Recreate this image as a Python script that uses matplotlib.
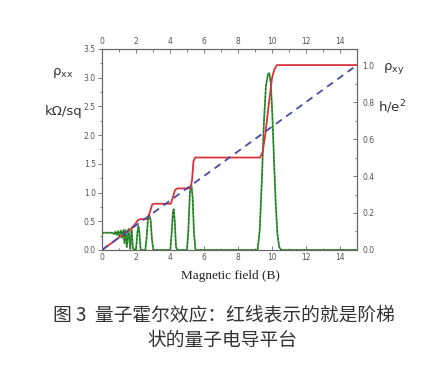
import matplotlib
matplotlib.use("Agg")
import matplotlib.pyplot as plt
from matplotlib.ticker import MultipleLocator, FormatStrFormatter

# rho_xx (left axis, kOhm/sq)
rxx_b = [0.00, 0.60, 0.70, 0.78, 0.86, 0.94, 1.02, 1.10, 1.18, 1.26, 1.32, 1.38,
         1.46, 1.56, 1.66, 1.74, 1.82, 1.92, 2.00, 2.08, 2.14, 2.20, 2.27, 2.55,
         2.62, 2.70, 2.78, 2.86, 2.94, 3.02, 4.02, 4.10, 4.17, 4.22, 4.28, 4.35,
         4.42, 5.00, 5.08, 5.17, 5.26, 5.33, 5.41, 5.50, 9.15, 9.28, 9.40, 9.52,
         9.64, 9.76, 9.84, 9.93, 10.02, 10.12, 10.22, 10.32, 10.42, 10.55, 15.0]
rxx_v = [0.30, 0.30, 0.28, 0.32, 0.26, 0.33, 0.24, 0.34, 0.21, 0.35, 0.12, 0.35,
         0.05, 0.37, 0.02, 0.38, 0.02, 0.01, 0.00, 0.30, 0.42, 0.30, 0.00, 0.00,
         0.20, 0.52, 0.61, 0.52, 0.18, 0.00, 0.00, 0.30, 0.66, 0.71, 0.50, 0.06,
         0.00, 0.00, 0.35, 1.00, 1.13, 0.92, 0.30, 0.00, 0.00, 0.35, 1.20, 2.20,
         2.85, 3.06, 3.08, 2.90, 2.35, 1.55, 0.80, 0.28, 0.05, 0.00, 0.00]

# rho_xy (right axis, h/e^2)
rxy_b = [0.0, 0.6, 1.0, 1.3, 1.45, 1.6, 1.8, 1.95, 2.1, 2.25, 2.65, 2.8, 2.95,
         3.05, 4.05, 4.15, 4.3, 4.45, 5.2, 5.3, 5.38, 5.48, 9.3, 9.45, 9.6,
         9.8, 10.0, 10.15, 10.3, 15.0]
rxy_v = [0.0, 0.04, 0.068, 0.085, 0.10, 0.105, 0.125, 0.14, 0.16, 0.167, 0.167,
         0.20, 0.245, 0.25, 0.25, 0.28, 0.325, 0.333, 0.333, 0.38, 0.48, 0.50,
         0.50, 0.53, 0.62, 0.78, 0.93, 0.98, 1.0, 1.0]

# classical Hall line
hall_b = [0.0, 15.0]
hall_v = [0.0, 1.0]

fig = plt.figure(figsize=(4.21, 3.74), dpi=100)
ax = fig.add_axes([0.2423, 0.3316, 0.6057, 0.5374])
ax2 = ax.twinx()

ax.plot(rxx_b, rxx_v, color="#3c9e3c", lw=1.3)
ax.plot(rxx_b, rxx_v, color="#1f5f1f", lw=0.7, dashes=(2, 2))
ax2.plot(rxy_b, rxy_v, color="#d8343c", lw=1.3)
ax2.plot(hall_b, hall_v, color="#4b4aa6", lw=1.3, dashes=(4, 3))

ax.set_xlim(0, 15)
ax.set_ylim(0, 3.5)
ax2.set_ylim(0, 3.5 / 3.22)

tick_kw = dict(labelsize=5.5, labelcolor="#555555", color="#666666", width=0.6)
ax.xaxis.set_major_locator(MultipleLocator(2))
ax.xaxis.set_minor_locator(MultipleLocator(1))
ax.yaxis.set_major_locator(MultipleLocator(0.5))
ax.yaxis.set_minor_locator(MultipleLocator(0.25))
ax.yaxis.set_major_formatter(FormatStrFormatter("%.1f"))
ax2.yaxis.set_major_locator(MultipleLocator(0.2))
ax2.yaxis.set_minor_locator(MultipleLocator(0.1))
ax2.yaxis.set_major_formatter(FormatStrFormatter("%.1f"))
ax2.set_yticks([0, 0.2, 0.4, 0.6, 0.8, 1.0])

ax.tick_params(axis="x", which="both", direction="in", top=True, labeltop=True,
               pad=2, **tick_kw)
ax.tick_params(axis="y", which="both", direction="out", pad=1.5, **tick_kw)
ax.tick_params(which="major", length=3)
ax.tick_params(which="minor", length=1.8)
ax2.tick_params(axis="y", which="both", direction="in", pad=4, **tick_kw)
ax2.tick_params(which="major", length=3)
ax2.tick_params(which="minor", length=1.8)

for a in (ax, ax2):
    for s in a.spines.values():
        s.set_color("#666666")
        s.set_linewidth(0.8)

side_kw = dict(fontsize=9.5, color="#333333", ha="center", va="center",
               family="DejaVu Sans")
fig.text(63 / 421, 1 - 73 / 374, r"ρ$_\mathregular{xx}$", **side_kw)
fig.text(64 / 421, 1 - 111 / 374, "kΩ/sq", **side_kw)
fig.text(394 / 421, 1 - 69 / 374, r"ρ$_\mathregular{xy}$", **side_kw)
fig.text(392 / 421, 1 - 107 / 374, r"h/e$^\mathregular{2}$", **side_kw)

fig.text(230 / 421, 1 - 276 / 374, "Magnetic field (B)", fontsize=9.5,
         color="#222222", ha="center", va="center", family="Liberation Serif")

cap_kw = dict(fontsize=13.5, color="#333333", ha="center", va="center",
              family=["Noto Sans CJK SC", "DejaVu Sans"])
fig.text(224 / 421, 1 - 315 / 374, "图 3  量子霍尔效应：红线表示的就是阶梯", **cap_kw)
fig.text(222 / 421, 1 - 340 / 374, "状的量子电导平台", **cap_kw)

fig.savefig("out.png", dpi=100)
